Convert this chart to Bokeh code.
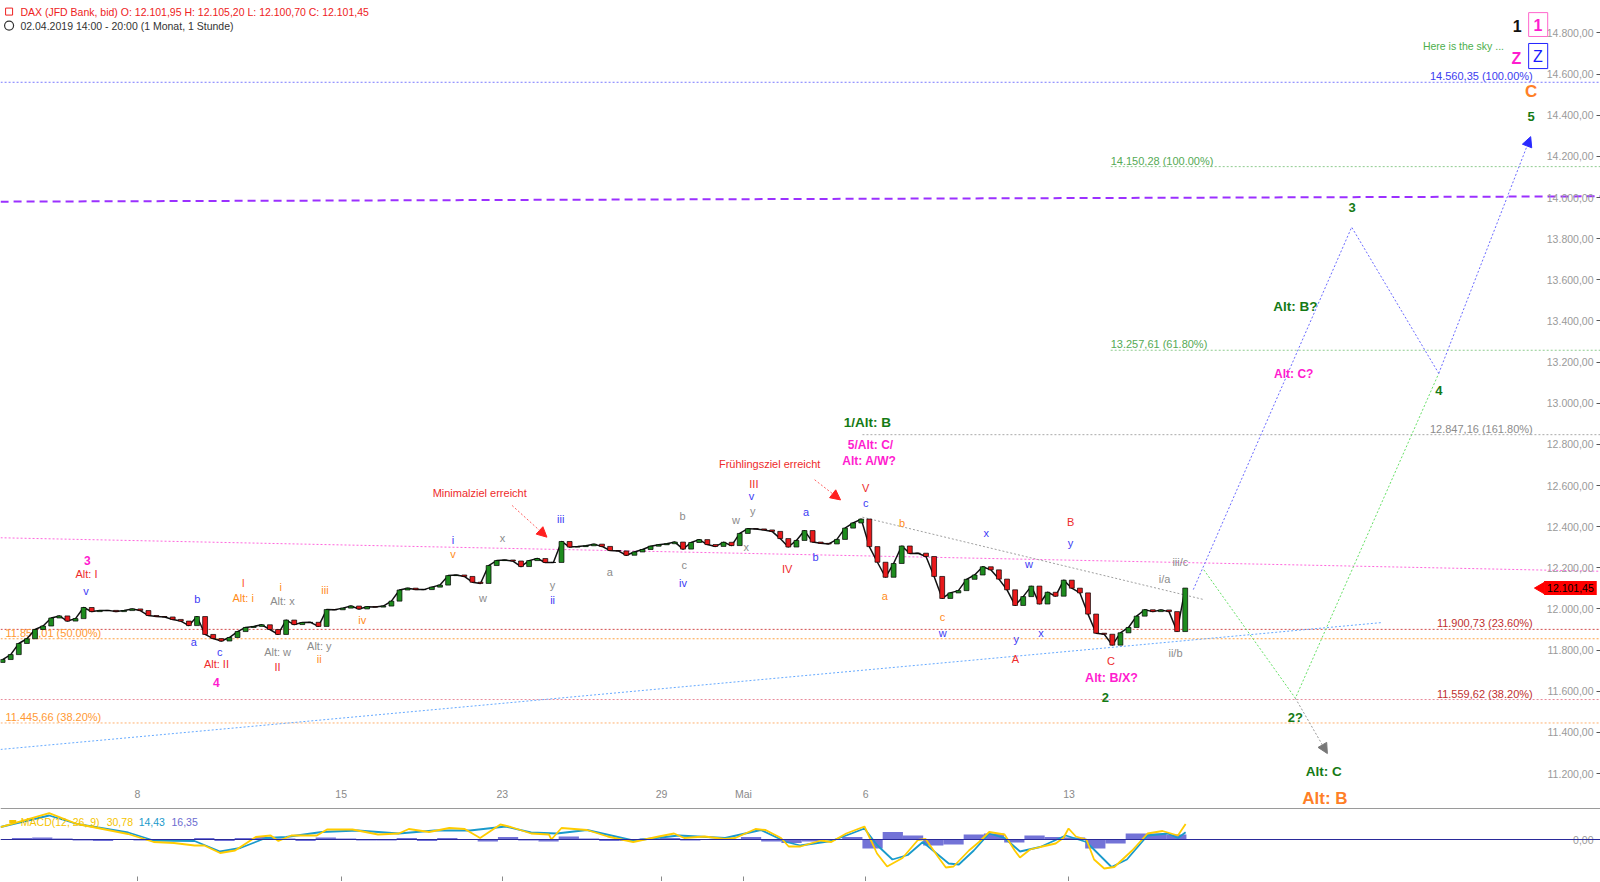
from bokeh.plotting import figure
from bokeh.layouts import column
from bokeh.models import (Range1d, ColumnDataSource, Span, Label, Arrow, NormalHead,
                          FixedTicker, SingleIntervalTicker, CustomJSTickFormatter, LinearAxis)
from bokeh.core.properties import value
from bokeh.embed import file_html
from bokeh.resources import INLINE

FONT = "Liberation Sans"

# ---------------- data ----------------
# hourly-ish closes, x in trading days (0 = 8 April), one bar every 0.2 day
T0, STEP = -3.38, 0.2
FIRST_OPEN = 11740
closes = [11754, 11778, 11832, 11855, 11900, 11917, 11956, 11966, 11941, 11953,
          12007, 11987, 11992, 11993, 11987, 11992, 12000, 11992, 11968, 11963,
          11961, 11949, 11941, 11919, 11963, 11876, 11856, 11844, 11861, 11890,
          11910, 11915, 11923, 11900, 11876, 11946, 11924, 11934, 11935, 11915,
          11997, 11996, 12004, 12014, 12000, 12011, 12009, 12014, 12038, 12092,
          12101, 12094, 12094, 12106, 12116, 12162, 12165, 12158, 12130, 12124,
          12211, 12235, 12238, 12233, 12206, 12235, 12245, 12226, 12226, 12328,
          12301, 12303, 12307, 12315, 12304, 12284, 12282, 12261, 12277, 12289,
          12305, 12312, 12317, 12325, 12291, 12323, 12337, 12313, 12304, 12324,
          12308, 12367, 12390, 12389, 12384, 12377, 12342, 12301, 12333, 12381,
          12325, 12319, 12316, 12338, 12393, 12418, 12437, 12303, 12227, 12154,
          12221, 12306, 12270, 12271, 12255, 12158, 12051, 12078, 12089, 12144,
          12165, 12205, 12190, 12145, 12093, 12017, 12060, 12111, 12024, 12081,
          12062, 12140, 12101, 12078, 11975, 11882, 11877, 11824, 11884, 11910,
          11965, 11996, 11987, 11995, 11987, 11890, 12101.45]

# day-start positions of the session bars and their labels
tick_days = [-0.05, 4.98, 8.96, 12.89, 14.91, 17.93, 22.95]
tick_labels = ["8", "15", "23", "29", "Mai", "6", "13"]

macd_t = [-3.43, -2.23, -1.54, -0.91, -0.28, 0.35, 0.85, 1.36, 1.60, 1.99,
          2.36, 2.87, 3.24, 3.43, 3.75, 4.38, 4.63, 5.26, 5.89, 6.40,
          6.65, 7.15, 7.65, 8.03, 8.41, 8.91, 9.17, 9.67, 10.11, 10.17,
          10.42, 11.05, 11.56, 12.19, 12.82, 13.20, 13.45, 13.95, 14.46, 14.71,
          15.21, 15.46, 15.84, 16.03, 16.32, 16.82, 17.08, 17.45, 17.90, 18.08,
          18.21, 18.46, 18.84, 19.22, 19.41, 19.72, 19.91, 20.10, 20.48, 20.73,
          20.98, 21.36, 21.61, 21.74, 21.99, 22.24, 22.62, 22.81, 22.94, 23.12,
          23.38, 23.57, 23.82, 24.07, 24.51, 24.89, 25.26, 25.64, 25.83]
macd_v = [24.7, 52.7, 31, 21, 11, -5, -7, -12, -12, -27,
          -22, 5, 8, -3, 8, 8, 20, 20, 10, 12,
          21, 15, 23, 21, 3, 30, 25, 12, 10, 0,
          23, 19, 6, -5, 6, 12, 3, 6, 1, 3,
          21, 19, 3, -14, -14, -2, -5, 12, 26, -5,
          -28, -54, -37, -1, 1, -35, -56, -54, -22, -5,
          15, 10, -22, -36, -20, -15, -8, 3, 22, 6,
          0, -40, -58, -55, -22, 12, 17, 8, 30.78]
sig_t = [-3.43, -2.23, -1.54, -0.28, 0.35, 1.36, 1.99, 2.49, 3.12, 3.62,
         4.50, 5.39, 6.40, 7.28, 8.16, 9.04, 9.67, 10.30, 11.05, 12.19,
         13.32, 14.46, 15.34, 15.97, 16.32, 17.08, 17.58, 17.90, 18.21, 18.59,
         18.97, 19.34, 19.98, 20.23, 20.60, 20.98, 21.36, 21.74, 22.24, 22.87,
         23.38, 24.00, 24.38, 24.89, 25.39, 25.64, 25.83]
sig_v = [25, 48, 31, 14, -2, -3, -24, -17, 3, 5,
         15, 18, 12, 18, 18, 26, 14, 12, 19, -2,
         8, 3, 19, -5, -12, -3, 12, 22, -11, -40,
         -31, -5, -48, -50, -22, 12, 3, -24, -15, 8,
         -5, -55, -40, 8, 12, 3, 14.43]
HIST_T0, HIST_STEP = -3.4, 0.5
hist_v = [0, 3, 4, 2, -2, -3, -1, -2, -3, -2,
          3, -3, 3, 5, 2, -3, 4, 2, -2, -2,
          3, -3, 3, 0, -4, 5, -2, -4, 6, 2,
          -3, -3, 2, 3, -2, -1, 0, 5, -4, -7,
          -4, 0, 5, -18, 15, 8, -12, -10, 10, 12,
          -6, 8, 5, 4, -18, -8, 12, 12, 10]

# Fibonacci levels
fib_levels = [14560.35, 14150.28, 13257.61, 12847.16, 11900.73, 11855.01, 11559.62, 11445.66]
fib_texts = ["14.560,35 (100.00%)", "14.150,28 (100.00%)", "13.257,61 (61.80%)",
             "12.847,16 (161.80%)", "11.900,73 (23.60%)", "11.855,01 (50.00%)",
             "11.559,62 (38.20%)", "11.445,66 (38.20%)"]
fib_start = [-3.43, 23.98, 23.98, 17.85, -3.43, -3.43, -3.43, -3.43]
fib_label_side = ["right", "left", "left", "right", "right", "far", "right", "far"]
fib_line_colors = ["#7a7aff", "#8fcc8f", "#8fcc8f", "#aaaaaa", "#d04a4a", "#ffa040", "#e88a9a", "#ffb070"]
fib_text_colors = ["#3c3cf0", "#55aa55", "#55aa55", "#8c8c8c", "#c03030", "#ff9933", "#c03030", "#ff9933"]

# trend lines: (x0, y0, x1, y1, color, dash, width)
trend_lines = [(-3.43, 13980, 36.1, 14006, "#9b30ff", "8 5", 2),
               (-3.43, 12346, 36.1, 12183, "#ff66dd", "2 2", 1),
               (-3.43, 11317, 30.69, 11934, "#66aaff", "2 2", 1),
               (17.85, 12446, 26.27, 12046, "#a0a0a0", "2 2", 1)]

# projected paths
blue_days = [26.02, 29.93, 32.08, 34.35]
blue_prices = [12094, 13856, 13145, 14296]
green_days = [26.28, 28.54, 32.08]
green_prices = [12190, 11566, 13145]
gray_arrow = (28.54, 11566, 29.33, 11297)
red_arrows = [(9.20, 12503, 10.06, 12349), (16.67, 12628, 17.31, 12530)]

BLUE, RED, ORANGE, ORED, GRAY = "#3b3bf5", "#ee2b2b", "#ff8c1a", "#ff5a2a", "#8c8c8c"
MAG, GREEN, LGREEN, ORANGE2 = "#ff1ccf", "#157a15", "#4caf4c", "#ff7f27"
S, N, B = "11px", "normal", "bold"

labels = [
    ("3", -1.29, 12235, MAG, "12px", B), ("Alt: I", -1.31, 12171, RED, S, N),
    ("v", -1.32, 12085, BLUE, S, N), ("b", 1.43, 12049, BLUE, S, N),
    ("a", 1.34, 11837, BLUE, S, N), ("c", 1.98, 11790, BLUE, S, N),
    ("Alt: II", 1.90, 11730, RED, S, N), ("4", 1.90, 11644, MAG, "12px", B),
    ("I", 2.56, 12125, ORED, S, N), ("Alt: i", 2.56, 12054, ORANGE, S, N),
    ("i", 3.49, 12109, ORANGE, S, N), ("Alt: x", 3.53, 12038, GRAY, S, N),
    ("Alt: w", 3.41, 11793, GRAY, S, N), ("II", 3.41, 11717, RED, S, N),
    ("iii", 4.58, 12090, ORANGE, S, N), ("Alt: y", 4.44, 11822, GRAY, S, N),
    ("ii", 4.44, 11758, ORANGE, S, N), ("iv", 5.50, 11944, ORANGE, S, N),
    ("i", 7.74, 12333, BLUE, S, N), ("v", 7.74, 12265, ORANGE, S, N),
    ("x", 8.96, 12344, GRAY, S, N), ("w", 8.48, 12052, GRAY, S, N),
    ("y", 10.20, 12117, GRAY, S, N), ("ii", 10.20, 12044, BLUE, S, N),
    ("iii", 10.40, 12438, BLUE, S, N), ("a", 11.61, 12182, GRAY, S, N),
    ("b", 13.41, 12451, GRAY, S, N), ("c", 13.45, 12216, GRAY, S, N),
    ("iv", 13.42, 12125, BLUE, S, N), ("w", 14.73, 12430, GRAY, S, N),
    ("y", 15.14, 12474, GRAY, S, N), ("v", 15.11, 12547, BLUE, S, N),
    ("III", 15.17, 12608, RED, S, N), ("x", 14.98, 12300, GRAY, S, N),
    ("IV", 15.99, 12195, RED, S, N), ("a", 16.46, 12469, BLUE, S, N),
    ("b", 16.69, 12251, BLUE, S, N), ("V", 17.93, 12589, RED, S, N),
    ("c", 17.93, 12516, BLUE, S, N), ("1/Alt: B", 17.97, 12908, GREEN, "13.5px", B),
    ("5/Alt: C/", 18.05, 12798, MAG, "12px", B), ("Alt: A/W?", 18.02, 12718, MAG, "12px", B),
    ("b", 18.83, 12417, ORANGE, S, N), ("a", 18.40, 12065, ORANGE, S, N),
    ("c", 19.83, 11963, ORANGE, S, N), ("w", 19.83, 11884, BLUE, S, N),
    ("x", 20.91, 12370, BLUE, S, N), ("w", 21.96, 12219, BLUE, S, N),
    ("y", 21.65, 11855, BLUE, S, N), ("x", 22.26, 11882, BLUE, S, N),
    ("A", 21.63, 11758, RED, S, N), ("B", 22.99, 12422, RED, S, N),
    ("y", 22.99, 12321, BLUE, S, N), ("C", 23.99, 11749, RED, S, N),
    ("Alt: B/X?", 24.00, 11664, MAG, "12.5px", B), ("2", 23.85, 11569, GREEN, "13px", B),
    ("iii/c", 25.70, 12227, GRAY, S, N), ("i/a", 25.31, 12146, GRAY, S, N),
    ("ii/b", 25.58, 11787, GRAY, S, N), ("3", 29.94, 13952, GREEN, "13px", B),
    ("Alt: B?", 28.54, 13472, GREEN, "13.5px", B), ("Alt: C?", 28.50, 13143, MAG, "12px", B),
    ("4", 32.08, 13064, GREEN, "13px", B), ("2?", 28.54, 11470, GREEN, "13px", B),
    ("Alt: C", 29.24, 11210, GREEN, "13.5px", B), ("Alt: B", 29.27, 11078, ORANGE2, "17px", B),
    ("C", 34.36, 14517, ORANGE2, "17px", B),
    ("5", 34.36, 14394, GREEN, "13px", B), ("Z", 34.00, 14677, MAG, "16px", B),
    ("Z", 34.53, 14688, "#1a1aff", "16px", N), ("1", 34.02, 14836, "#111111", "16px", B),
    ("1", 34.53, 14841, MAG, "16px", B), ("Here is the sky ...", 32.69, 14739, LGREEN, "10.5px", N),
    ("Minimalziel erreicht", 8.40, 12563, RED, S, N),
    ("Frühlingsziel erreicht", 15.56, 12705, RED, S, N),
]
boxes = [(34.30, 34.77, 14899, 14783, "#ff66cc"), (34.30, 34.77, 14749, 14627, "#2222ff")]

header = [("DAX (JFD Bank, bid)  O: 12.101,95  H: 12.105,20  L: 12.100,70  C: 12.101,45", 14904, "#ee2222"),
          ("02.04.2019 14:00 - 20:00   (1 Monat, 1 Stunde)", 14836, "#333333")]
macd_legend = [("MACD(12, 26, 9)", -2.93, "#f5c400"), ("30,78", -0.81, "#f5c400"),
               ("14,43", -0.02, "#1a9acb"), ("16,35", 0.79, "#6c6cd0")]
LAST = 12101.45

# ---------------- figures ----------------
DE_FMT = CustomJSTickFormatter(code=r"""
const s = Math.abs(tick).toFixed(2).split(".");
const ip = s[0].replace(/\B(?=(\d{3})+(?!\d))/g, ".");
return (tick < 0 ? "-" : "") + ip + "," + s[1];
""")

X_LEFT, X_RIGHT = -3.432, 36.074
P_BOTTOM, P_TOP = 11025.0, 14957.9
xr = Range1d(X_LEFT, X_RIGHT)
p = figure(frame_width=1600, frame_height=809, x_range=xr, y_range=Range1d(P_BOTTOM, P_TOP),
           x_axis_location=None, y_axis_location=None, toolbar_location=None,
           output_backend="svg", min_border=0, outline_line_color=None,
           background_fill_color="white", border_fill_color="white")
p.grid.visible = False

# price axis drawn inside the frame at its right edge
ya = LinearAxis(fixed_location=X_RIGHT, ticker=SingleIntervalTicker(interval=200, num_minor_ticks=0),
                formatter=DE_FMT, axis_line_color=None, major_tick_in=0, major_tick_out=4,
                major_tick_line_color="#555555", minor_tick_line_color=None,
                major_label_text_color="#9a9a9a", major_label_text_font=FONT,
                major_label_text_font_size="10.5px", major_label_standoff=3)
p.add_layout(ya, "left")

# date axis along the bottom of the price panel, labels above the line
xa = LinearAxis(fixed_location=P_BOTTOM + 2.5, ticker=FixedTicker(ticks=tick_days),
                major_label_overrides={d: s for d, s in zip(tick_days, tick_labels)},
                axis_line_color="#9a9a9a", major_tick_line_color=None, minor_tick_line_color=None,
                major_label_text_color="#8a8a8a", major_label_text_font=FONT,
                major_label_text_font_size="10.5px", major_label_standoff=3)
p.add_layout(xa, "above")

# horizontal fib lines
for lvl, x0, lc in zip(fib_levels, fib_start, fib_line_colors):
    p.segment(x0=[x0], y0=[lvl], x1=[40], y1=[lvl], line_color=lc, line_dash="2 2", line_width=1)
for (x0, y0, x1, y1, c, d, w) in trend_lines:
    p.segment(x0=[x0], y0=[y0], x1=[x1], y1=[y1], line_color=c, line_dash=d, line_width=w)

# fib labels
fx, fy, ft, fc, fa = [], [], [], [], []
for lvl, txt, x0, side, tc in zip(fib_levels, fib_texts, fib_start, fib_label_side, fib_text_colors):
    if side == "right":
        fx.append(34.40); fa.append("right")
    elif side == "left":
        fx.append(x0); fa.append("left")
    else:
        fx.append(-3.31); fa.append("left")
    fy.append(lvl); ft.append(txt); fc.append(tc)
fsrc = ColumnDataSource(dict(x=fx, y=fy, text=ft, color=fc, align=fa))
p.text(x="x", y="y", text="text", source=fsrc, text_color="color", text_align="align",
       text_baseline="bottom", text_font=value(FONT), text_font_size="11px")

# projections
p.line(blue_days[:3], blue_prices[:3], line_color="#6a6aff", line_dash="2 2", line_width=1)
p.add_layout(Arrow(end=NormalHead(size=10, fill_color="#2a2aff", line_color="#2a2aff"),
                   x_start=blue_days[2], y_start=blue_prices[2], x_end=blue_days[3], y_end=blue_prices[3],
                   line_color="#6a6aff", line_dash="2 2", line_width=1))
p.line(green_days, green_prices, line_color="#66e066", line_dash="2 2", line_width=1)
gx0, gy0, gx1, gy1 = gray_arrow
p.add_layout(Arrow(end=NormalHead(size=10, fill_color="#777777", line_color="#777777"),
                   x_start=gx0, y_start=gy0, x_end=gx1, y_end=gy1,
                   line_color="#999999", line_dash="2 2", line_width=1))
for (ax0, ay0, ax1, ay1) in red_arrows:
    p.add_layout(Arrow(end=NormalHead(size=10, fill_color="#ff2020", line_color="#ff2020"),
                       x_start=ax0, y_start=ay0, x_end=ax1, y_end=ay1,
                       line_color="#ff6060", line_dash="2 2", line_width=1))

# candles
n = len(closes)
t = [T0 + STEP * i for i in range(n)]
opens = [FIRST_OPEN] + closes[:-1]
top = [max(o, c) for o, c in zip(opens, closes)]
bot = [min(o, c) for o, c in zip(opens, closes)]
cols = ["#1e8c1e" if c >= o else "#e8191b" for o, c in zip(opens, closes)]
p.line(t, closes, line_color="#111111", line_width=1.5)
p.vbar(x=t, top=top, bottom=bot, width=0.12, fill_color=cols, line_color="black", line_width=0.7)

# wave labels
lsrc = ColumnDataSource(dict(text=[l[0] for l in labels], x=[l[1] for l in labels],
                             y=[l[2] for l in labels], color=[l[3] for l in labels],
                             size=[l[4] for l in labels], style=[l[5] for l in labels]))
p.text(x="x", y="y", text="text", source=lsrc, text_color="color", text_font_size="size",
       text_font_style="style", text_align="center", text_baseline="middle", text_font=value(FONT))
for (l, r, tp, bt, c) in boxes:
    p.quad(left=[l], right=[r], top=[tp], bottom=[bt], fill_color=None, line_color=c, line_width=1)

# header
hsrc = ColumnDataSource(dict(text=[h[0] for h in header], y=[h[1] for h in header],
                             x=[-2.94] * len(header), color=[h[2] for h in header]))
p.text(x="x", y="y", text="text", source=hsrc, text_color="color", text_align="left",
       text_baseline="middle", text_font=value(FONT), text_font_size="10.5px")
p.scatter(x=[-3.22], y=[header[1][1]], marker="circle", size=9, fill_color=None,
          line_color="#333333", line_width=1.2)
p.scatter(x=[-3.22], y=[header[0][1]], marker="square", size=7, fill_color=None,
          line_color="#ee2222", line_width=1)

# last price tag
p.scatter(x=[34.60], y=[LAST], marker="triangle", angle=1.5708, size=11,
          fill_color="#ff0000", line_color="#ff0000")
p.add_layout(Label(x=34.68, y=LAST, text="12.101,45", text_align="left", text_baseline="middle",
                   text_font=FONT, text_font_size="10.5px", text_color="black",
                   background_fill_color="#ff0000", padding=3))

# ---------------- MACD panel ----------------
M_BOTTOM, M_TOP = -84, 60
p2 = figure(frame_width=1600, frame_height=72, x_range=xr, y_range=Range1d(M_BOTTOM, M_TOP),
            x_axis_location=None, y_axis_location=None, toolbar_location=None,
            output_backend="svg", min_border=0, outline_line_color=None,
            background_fill_color="white", border_fill_color="white")
p2.grid.visible = False
bx = LinearAxis(fixed_location=M_BOTTOM, ticker=FixedTicker(ticks=tick_days), major_tick_in=5,
                major_tick_out=0, major_tick_line_color="#8a8a8a", minor_tick_line_color=None,
                axis_line_color=None, major_label_text_font_size="1px",
                formatter=CustomJSTickFormatter(code="return ''"))
p2.add_layout(bx, "below")
y2 = LinearAxis(fixed_location=X_RIGHT, ticker=FixedTicker(ticks=[0]), formatter=DE_FMT,
                axis_line_color=None, major_tick_in=0, major_tick_out=4,
                major_tick_line_color="#555555", minor_tick_line_color=None,
                major_label_text_color="#9a9a9a", major_label_text_font=FONT,
                major_label_text_font_size="10.5px", major_label_standoff=3)
p2.add_layout(y2, "left")

hist_t = [HIST_T0 + HIST_STEP * k for k in range(len(hist_v))]
p2.vbar(x=hist_t, top=hist_v, bottom=0, width=HIST_STEP, fill_color="#5a5ad0",
        fill_alpha=0.85, line_color=None)
p2.add_layout(Span(location=0, dimension="width", line_color="#2a2a9a", line_width=1))
p2.line(sig_t, sig_v, line_color="#1a9acb", line_width=1.8)
p2.line(macd_t, macd_v, line_color="#ffcc00", line_width=1.8)

msrc = ColumnDataSource(dict(text=[m[0] for m in macd_legend], x=[m[1] for m in macd_legend],
                             y=[36] * len(macd_legend), color=[m[2] for m in macd_legend]))
p2.text(x="x", y="y", text="text", source=msrc, text_color="color", text_align="left",
        text_baseline="middle", text_font=value(FONT), text_font_size="10.5px")
p2.scatter(x=[-3.13], y=[36], marker="dash", size=7, line_color="#f5c400", line_width=3)

layout = column(p, p2, spacing=0)
open("out.html", "w").write(file_html(layout, INLINE))
